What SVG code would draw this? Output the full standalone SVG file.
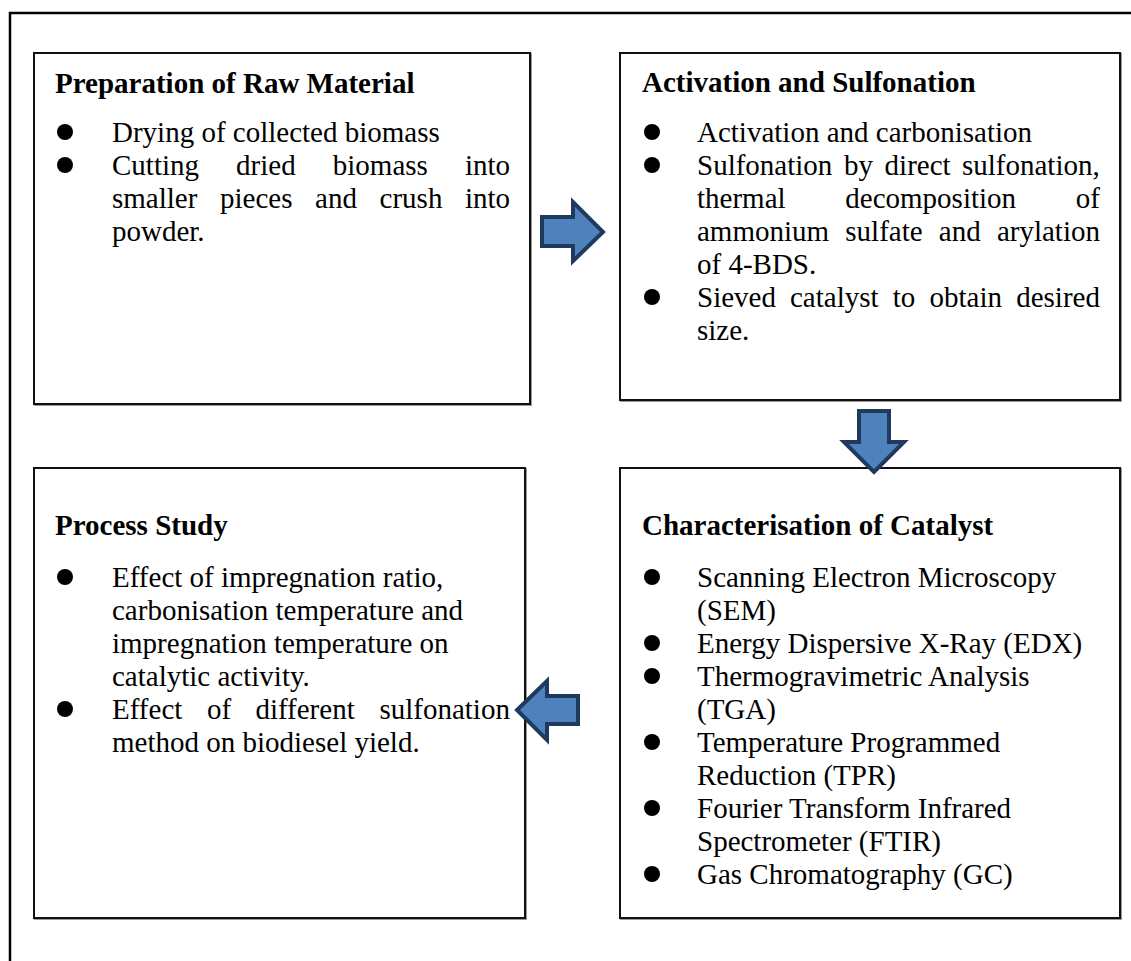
<svg xmlns="http://www.w3.org/2000/svg" width="1131" height="961" viewBox="0 0 1131 961">
<style>
.t{font-family:"Liberation Serif","Times New Roman",serif;font-size:29px;fill:#000}
.h{font-weight:bold}
.box{fill:#fff;stroke:#111;stroke-width:2}
.sh{fill:none;stroke:#999;stroke-width:2}
.arr{fill:#4F81BD;stroke:#1F3A5F;stroke-width:4;stroke-linejoin:miter}
</style>
<defs>
<circle id="b" r="8" fill="#000"/>
</defs>
<rect x="0" y="0" width="1131" height="961" fill="#fff"/>
<path d="M10 970 V13 H1140" fill="none" stroke="#000" stroke-width="2.5"/>

<g id="prep">
<rect class="sh" x="35" y="54" width="496" height="351"/>
<rect class="box" x="34" y="53" width="496" height="351"/>
<text class="t h" x="55" y="93">Preparation of Raw Material</text>
<use href="#b" x="65" y="132"/>
<use href="#b" x="65" y="165"/>
<text class="t" x="112" y="142">Drying of collected biomass</text>
<text class="t" y="175"><tspan x="112">Cutting</tspan><tspan x="236.1">dried</tspan><tspan x="332.8">biomass</tspan><tspan x="465">into</tspan></text>
<text class="t" y="208"><tspan x="112">smaller</tspan><tspan x="220">pieces</tspan><tspan x="315.1">and</tspan><tspan x="379.6">crush</tspan><tspan x="465">into</tspan></text>
<text class="t" x="112" y="241">powder.</text>
</g>

<g id="activation">
<rect class="sh" x="621" y="54" width="500" height="347"/>
<rect class="box" x="620" y="53" width="500" height="347"/>
<text class="t h" x="642" y="92">Activation and Sulfonation</text>
<use href="#b" x="652" y="132"/>
<use href="#b" x="652" y="165"/>
<use href="#b" x="652" y="297"/>
<text class="t" x="697" y="142">Activation and carbonisation</text>
<text class="t" y="175"><tspan x="697">Sulfonation</tspan><tspan x="844">by</tspan><tspan x="884.6">direct</tspan><tspan x="962">sulfonation,</tspan></text>
<text class="t" y="208"><tspan x="697">thermal</tspan><tspan x="845.3">decomposition</tspan><tspan x="1075.8">of</tspan></text>
<text class="t" y="241"><tspan x="697">ammonium</tspan><tspan x="845.3">sulfate</tspan><tspan x="938.8">and</tspan><tspan x="996.9">arylation</tspan></text>
<text class="t" x="697" y="274">of 4-BDS.</text>
<text class="t" y="307"><tspan x="697">Sieved</tspan><tspan x="790">catalyst</tspan><tspan x="892.8">to</tspan><tspan x="929.5">obtain</tspan><tspan x="1016.2">desired</tspan></text>
<text class="t" x="697" y="340">size.</text>
</g>

<g id="process">
<rect class="sh" x="35" y="469" width="491" height="450"/>
<rect class="box" x="34" y="468" width="491" height="450"/>
<text class="t h" x="55" y="535">Process Study</text>
<use href="#b" x="65" y="577"/>
<use href="#b" x="65" y="709"/>
<text class="t" x="112" y="587">Effect of impregnation ratio,</text>
<text class="t" x="112" y="620">carbonisation temperature and</text>
<text class="t" x="112" y="653">impregnation temperature on</text>
<text class="t" x="112" y="686">catalytic activity.</text>
<text class="t" y="719"><tspan x="112">Effect</tspan><tspan x="207">of</tspan><tspan x="255.4">different</tspan><tspan x="379.4">sulfonation</tspan></text>
<text class="t" x="112" y="752">method on biodiesel yield.</text>
</g>

<g id="characterisation">
<rect class="sh" x="621" y="469" width="500" height="450"/>
<rect class="box" x="620" y="468" width="500" height="450"/>
<text class="t h" x="642" y="535">Characterisation of Catalyst</text>
<use href="#b" x="652" y="577"/>
<use href="#b" x="652" y="643"/>
<use href="#b" x="652" y="676"/>
<use href="#b" x="652" y="742"/>
<use href="#b" x="652" y="808"/>
<use href="#b" x="652" y="874"/>
<text class="t" x="697" y="587">Scanning Electron Microscopy</text>
<text class="t" x="697" y="620">(SEM)</text>
<text class="t" x="697" y="653">Energy Dispersive X-Ray (EDX)</text>
<text class="t" x="697" y="686">Thermogravimetric Analysis</text>
<text class="t" x="697" y="719">(TGA)</text>
<text class="t" x="697" y="752">Temperature Programmed</text>
<text class="t" x="697" y="785">Reduction (TPR)</text>
<text class="t" x="697" y="818">Fourier Transform Infrared</text>
<text class="t" x="697" y="851">Spectrometer (FTIR)</text>
<text class="t" x="697" y="884">Gas Chromatography (GC)</text>
</g>

<g id="connectors">
<path class="arr" d="M542 217 H573 V202 L603 232 L573 261 V246 H542 Z"/>
<path class="arr" d="M859 411 H889 V442 H904 L874 472 L844 442 H859 Z"/>
<path class="arr" d="M578 696 H547 V681 L517 710 L547 740 V724 H578 Z"/>
</g>
</svg>
